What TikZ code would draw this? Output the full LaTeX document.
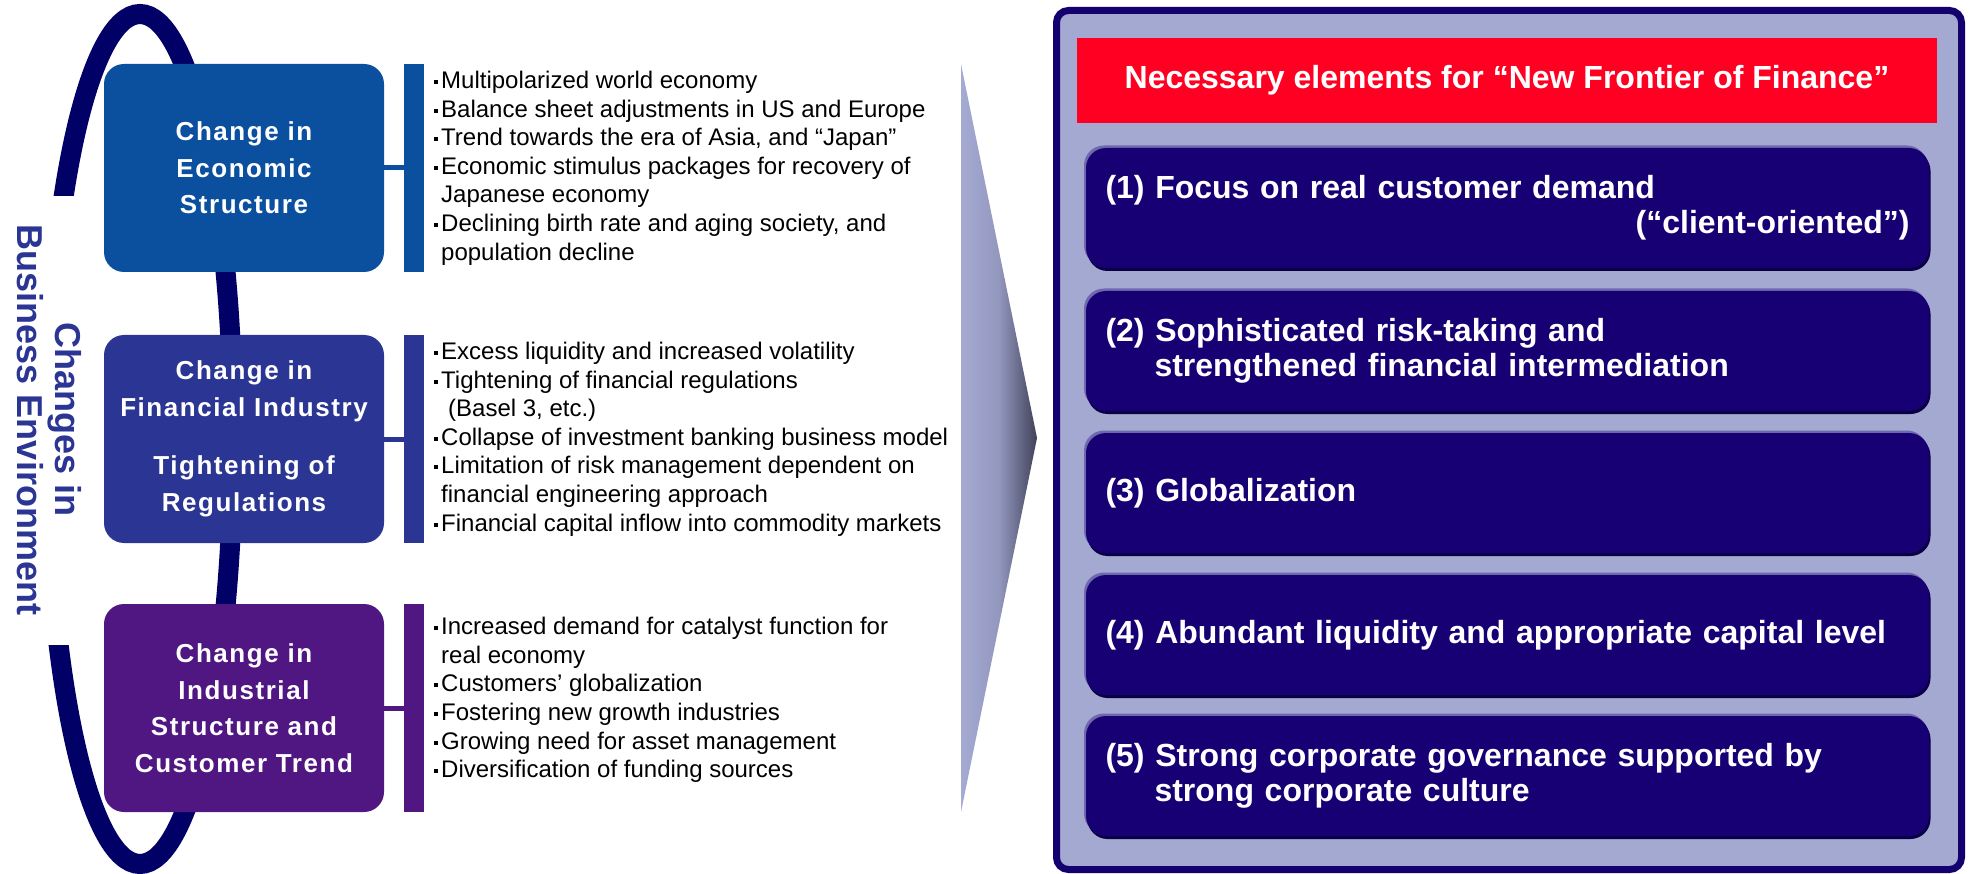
\documentclass[tikz,border=0pt]{standalone}
\usepackage{fontspec}
\setmainfont{Liberation Sans}
\definecolor{econ}{HTML}{0B4F9F}
\definecolor{fin}{HTML}{2B3594}
\definecolor{indus}{HTML}{501682}
\definecolor{ringc}{HTML}{000066}
\definecolor{panelfill}{HTML}{A3A9D1}
\definecolor{panelline}{HTML}{150070}
\definecolor{hdr}{HTML}{FF0022}
\definecolor{itemfill}{HTML}{170073}
\definecolor{itemhi}{HTML}{7068AE}
\definecolor{itemlo}{HTML}{0A0045}
\definecolor{arrowlt}{HTML}{A5ABD3}
\definecolor{arrowmid}{HTML}{9397BE}
\definecolor{arrowdk}{HTML}{40425A}

% small square bullet and the matching indent for wrapped lines
\newcommand{\bulmark}{\makebox[7pt][l]{\rule[4.5pt]{4pt}{4pt}}}
\newcommand{\contind}{\hspace*{7pt}}

\begin{document}
\begin{tikzpicture}[x=1pt,y=-1pt,
  catbox/.style={rounded corners=20, minimum width=280, minimum height=208,
    inner sep=0, align=center, text=white,
    font=\bfseries\fontsize{26}{36.5}\selectfont\addfontfeature{LetterSpace=6}},
  sidebar/.style={minimum width=20, minimum height=208, inner sep=0},
  link/.style={line width=5},
  bullets/.style={anchor=west, inner sep=0, align=left,
    font=\fontsize{24}{28.6}\selectfont},
  ring/.style={draw=ringc, line width=20},
  itembox/.style={rounded corners=20, minimum width=843, minimum height=120,
    inner xsep=19.5, inner ysep=0, text width=804, align=left, text=white,
    fill=itemfill, font=\bfseries\fontsize{32}{35}\selectfont,
    preaction={fill=itemhi, transform canvas={shift={(-2pt,2.5pt)}}},
    preaction={fill=itemlo, transform canvas={shift={(1.5pt,-3pt)}}}}
]
\useasboundingbox (0,0) rectangle (1970,874);

% ring around the three categories, open on the left for the title
\begin{scope}
  \clip (0,0) rectangle (1970,196) (0,645) rectangle (1970,874)
        (100,196) rectangle (1970,645);
  \draw[ring] (140,439) ellipse [x radius=93, y radius=425];
\end{scope}

\node (title) [rotate=-90, text=fin, align=center, inner sep=0,
  font=\bfseries\fontsize{36}{38}\selectfont] at (49,420)
  {Changes in\\Business Environment};

% categories
\node (c1) [catbox, fill=econ] at (244,168) {Change in\\Economic\\Structure};
\node (c2) [catbox, fill=fin] at (244,439)
  {Change in\\Financial Industry\\[22pt]Tightening of\\Regulations};
\node (c3) [catbox, fill=indus] at (244,708)
  {Change in\\Industrial\\Structure and\\Customer Trend};

\node (b1) [sidebar, fill=econ] at (414,168) {};
\node (b2) [sidebar, fill=fin] at (414,439) {};
\node (b3) [sidebar, fill=indus] at (414,708) {};
\draw[link, econ] (c1.east) -- (b1.west);
\draw[link, fin] (c2.east) -- (b2.west);
\draw[link, indus] (c3.east) -- (b3.west);

\node (l1) [bullets] at (434,168) {%
\bulmark Multipolarized world economy\\
\bulmark Balance sheet adjustments in US and Europe\\
\bulmark Trend towards the era of Asia, and “Japan”\\
\bulmark Economic stimulus packages for recovery of\\
\contind Japanese economy\\
\bulmark Declining birth rate and aging society, and\\
\contind population decline};

\node (l2) [bullets] at (434,439) {%
\bulmark Excess liquidity and increased volatility\\
\bulmark Tightening of financial regulations\\
\hspace*{14pt}(Basel 3, etc.)\\
\bulmark Collapse of investment banking business model\\
\bulmark Limitation of risk management dependent on\\
\contind financial engineering approach\\
\bulmark Financial capital inflow into commodity markets};

\node (l3) [bullets] at (434,700) {%
\bulmark Increased demand for catalyst function for\\
\contind real economy\\
\bulmark Customers’ globalization\\
\bulmark Fostering new growth industries\\
\bulmark Growing need for asset management\\
\bulmark Diversification of funding sources};

% transition arrow
\coordinate (at) at (961,64);
\coordinate (ab) at (961,812);
\coordinate (ap) at (1037,438);
\shade[left color=arrowlt, right color=arrowdk, middle color=arrowmid]
  (at) -- (ap) -- (ab) -- cycle;

% right panel
\node (panel) [draw=panelline, line width=7, rounded corners=12,
  fill=panelfill, minimum width=905, minimum height=859, inner sep=0]
  at (1509,440) {};
\node (head) [fill=hdr, minimum width=860, minimum height=85, inner sep=0,
  text=white, font=\bfseries\fontsize{32}{35}\selectfont] at (1507,80.5)
  {Necessary elements for “New Frontier of Finance”};

\node (e1) [itembox] at (1507.5,208)
  {(1) Focus on real customer demand\\\hfill(“client-oriented”)};
\node (e2) [itembox] at (1507.5,351)
  {(2) Sophisticated risk-taking and\\\hspace*{49pt}strengthened financial intermediation};
\node (e3) [itembox] at (1507.5,493) {(3) Globalization};
\node (e4) [itembox] at (1507.5,635)
  {(4) Abundant liquidity and appropriate capital level};
\node (e5) [itembox] at (1507.5,776)
  {(5) Strong corporate governance supported by\\\hspace*{49pt}strong corporate culture};
\end{tikzpicture}
\end{document}
